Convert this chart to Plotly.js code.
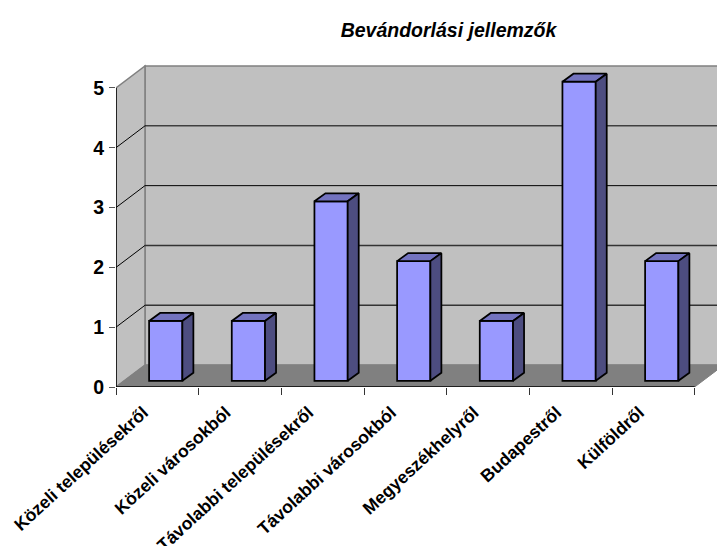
<!DOCTYPE html>
<html><head><meta charset="utf-8">
<script src="https://cdn.plot.ly/plotly-3.0.1.min.js"></script>
<style>html,body{margin:0;padding:0;background:#fff}#c{width:717px;height:546px}</style></head>
<body><div id="c"></div>
<script>
const categories = ["Közeli településekről","Közeli városokból","Távolabbi településekről","Távolabbi városokból","Megyeszékhelyről","Budapestről","Külföldről"];
const values = [1,1,3,2,1,5,2];
const yTicks = [0,1,2,3,4,5];
const chartTitle = "Bevándorlási jellemzők";

const FONT = '"Liberation Sans", Arial, sans-serif';
const DX = 0.3505, DY = 0.366;      // floor depth in axis units
const XMIN = -0.5, XMAX = 6.77, YMAX = 5.5, XEND = 6.5;
const BW = 0.4025, D0 = 0.29, D1 = 0.67;

const poly = (pts, fill, line, w) => ({
  type:'path', layer:'below', xref:'x2', yref:'y',
  path:'M'+pts.map(p=>p[0]+','+p[1]).join('L')+'Z',
  fillcolor:fill, line:{color:line,width:w}
});
const seg = (a,b,color,w) => ({
  type:'line', layer:'below', xref:'x2', yref:'y',
  x0:a[0],y0:a[1],x1:b[0],y1:b[1], line:{color:color,width:w}
});

const yTop = yTicks[yTicks.length-1];
const shapes = [
  poly([[XMIN+DX,DY],[XEND+DX,DY],[XEND+DX,yTop+DY],[XMIN+DX,yTop+DY]],'#C0C0C0','#808080',1.5),
  poly([[XMIN,0],[XMIN+DX,DY],[XMIN+DX,yTop+DY],[XMIN,yTop]],'#C0C0C0','#808080',1.5),
  poly([[XMIN,0],[XMIN+DX,DY],[XEND+DX,DY],[XEND,0]],'#808080','#808080',1),
];
yTicks.filter(v=>v>0&&v<yTop).forEach(v=>{
  const back = v>=3 ? ['#000',1] : ['#333',1.5];
  shapes.push(seg([XMIN,v],[XMIN+DX,v+DY],'#000',1));
  shapes.push(seg([XMIN+DX,v+DY],[XEND+DX,v+DY],back[0],back[1]));
});
shapes.push(seg([XMIN,0],[XMIN,yTop],'#000',1.5));
shapes.push(seg([XMIN,0],[XEND,0],'#000',1.5));

const topX=[],topY=[],sideX=[],sideY=[];
const BD0 = 0.104, BD1 = 0.104 + 0.134;
values.forEach((v,i)=>{
  const l = i + D0*DX - BW/2, r = l + BW, dx=(D1-D0)*DX, dy=BD1-BD0;
  const b = BD0, t = b + v;
  topX.push(l,r,r+dx,l+dx,l,null); topY.push(t,t,t+dy,t+dy,t,null);
  sideX.push(r,r+dx,r+dx,r,r,null); sideY.push(b,b+dy,t+dy,t,b,null);
});

const data = [
  {type:'bar', x:categories, y:values, base:BD0, width:BW, offset:D0*DX-BW/2,
   marker:{color:'#9999FF',line:{color:'#000',width:1.75}}, hoverinfo:'x+y', xaxis:'x', yaxis:'y'},
  {type:'scatter', mode:'lines', x:topX, y:topY, fill:'toself', fillcolor:'#7373BF',
   line:{color:'#000',width:1.75}, hoverinfo:'skip', xaxis:'x2', yaxis:'y'},
  {type:'scatter', mode:'lines', x:sideX, y:sideY, fill:'toself', fillcolor:'#4D4D80',
   line:{color:'#000',width:1.75}, hoverinfo:'skip', xaxis:'x2', yaxis:'y'}
];
const layout = {
  width:717, height:546, showlegend:false,
  paper_bgcolor:'#fff', plot_bgcolor:'rgba(0,0,0,0)',
  margin:{l:115.5,r:0,t:57.5,b:158.5,pad:0},
  title:{text:'<b><i>'+chartTitle+'</i></b>', font:{family:FONT,size:19.5,color:'#000'},
         xref:'container',yref:'container',x:448.5/717,y:1-30/546,xanchor:'center',yanchor:'middle'},
  xaxis:{type:'category', categoryorder:'array', categoryarray:categories, range:[XMIN,XMAX],
         tickson:'boundaries', ticks:'outside', ticklen:7, tickcolor:'#333', tickwidth:1,
         tickangle:-42.5, tickfont:{family:FONT,size:17.5,color:'#000',weight:'bold'},
         ticklabelstandoff:11, ticklabelshift:-14,
         showgrid:false, zeroline:false, showline:false},
  xaxis2:{type:'linear', overlaying:'x', range:[XMIN,XMAX], visible:false, showgrid:false, zeroline:false},
  yaxis:{range:[0,YMAX], tickvals:yTicks, ticks:'outside', ticklen:6, tickcolor:'#555', tickwidth:1,
         ticklabelstandoff:1,
         tickfont:{family:FONT,size:19.5,color:'#000',weight:'bold'},
         showgrid:false, zeroline:false, showline:false},
  shapes
};
Plotly.newPlot('c', data, layout, {displayModeBar:false, staticPlot:true});
</script></body></html>
